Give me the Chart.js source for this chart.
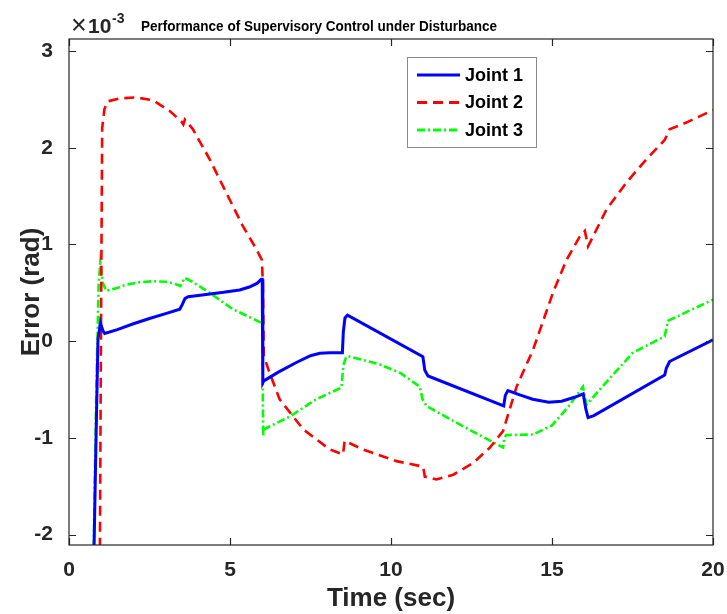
<!DOCTYPE html>
<html>
<head>
<meta charset="utf-8">
<script src="https://cdn.jsdelivr.net/npm/chart.js@4"></script>
<style>
  html, body { margin: 0; padding: 0; background: #fff; overflow: hidden; }
  #wrap { width: 727px; height: 614px; position: relative; }
  #errChart { display: block; }
</style>
</head>
<body>
<div id="wrap"><canvas id="errChart"></canvas></div>
<script>
// errors in units of 1e-3 rad
const t1 = [0.75, 0.78, 0.84, 0.9, 0.975, 1.05, 1.11, 1.5, 2.0, 2.5, 3.0, 3.44, 3.52, 3.6, 3.7, 4.2, 4.8, 5.3, 5.6, 5.85, 5.97, 6.0, 6.02, 6.05, 6.5, 7.06, 7.5, 7.79, 8.1, 8.49, 8.52, 8.57, 8.65, 10.99, 11.05, 11.15, 13.5, 13.55, 13.63, 14.0, 14.4, 14.9, 15.3, 15.7, 15.97, 16.05, 16.12, 16.3, 18.5, 18.55, 18.65, 20];
const e1 = [-2.3, -2.1, -1.0, 0.02, 0.19, 0.11, 0.08, 0.12, 0.18, 0.235, 0.285, 0.33, 0.38, 0.44, 0.46, 0.48, 0.505, 0.53, 0.56, 0.6, 0.64, 0.64, -0.43, -0.41, -0.32, -0.22, -0.15, -0.125, -0.12, -0.12, 0.1, 0.24, 0.27, -0.16, -0.3, -0.36, -0.67, -0.56, -0.51, -0.555, -0.6, -0.63, -0.62, -0.58, -0.545, -0.7, -0.79, -0.77, -0.35, -0.28, -0.21, 0.015];

const t2 = [0.93, 0.96, 1.0, 1.03, 1.1, 1.21, 1.57, 2.09, 2.61, 3.13, 3.49, 3.55, 3.6, 3.85, 4.37, 4.89, 5.4, 5.82, 5.99, 6.02, 6.05, 6.2, 6.54, 7.27, 8.1, 8.51, 8.56, 9.13, 10.17, 10.89, 11.0, 11.05, 11.41, 11.93, 12.55, 13.07, 13.48, 13.9, 14.41, 15.03, 15.45, 15.86, 16.02, 16.12, 16.69, 17.31, 17.93, 18.5, 18.65, 19.17, 20];
const e2 = [-2.3, -2.1, 0.5, 2.2, 2.4, 2.48, 2.51, 2.52, 2.49, 2.38, 2.27, 2.24, 2.29, 2.19, 1.88, 1.53, 1.19, 0.95, 0.84, 0.6, -0.15, -0.3, -0.6, -0.91, -1.12, -1.17, -1.03, -1.12, -1.24, -1.29, -1.3, -1.4, -1.43, -1.38, -1.26, -1.1, -0.93, -0.47, -0.09, 0.5, 0.84, 1.08, 1.14, 0.98, 1.36, 1.64, 1.88, 2.08, 2.19, 2.26, 2.39];

const t3 = [0.74, 0.77, 0.85, 0.92, 0.97, 1.05, 1.16, 1.5, 1.78, 2.2, 2.61, 3.0, 3.23, 3.46, 3.59, 3.8, 4.37, 5.09, 5.6, 5.97, 6.0, 6.03, 6.06, 6.85, 7.68, 8.46, 8.52, 8.61, 8.66, 9.65, 10.3, 10.89, 10.98, 11.1, 12.24, 13.48, 13.52, 13.58, 14.41, 15.0, 15.5, 15.96, 16.07, 16.48, 17.51, 18.5, 18.6, 20];
const e3 = [-2.3, -2.1, -0.5, 0.6, 0.81, 0.6, 0.52, 0.55, 0.585, 0.61, 0.62, 0.615, 0.6, 0.57, 0.655, 0.62, 0.5, 0.33, 0.25, 0.19, 0.19, -0.98, -0.91, -0.78, -0.6, -0.48, -0.25, -0.16, -0.155, -0.24, -0.33, -0.47, -0.6, -0.67, -0.88, -1.1, -1.0, -0.97, -0.965, -0.87, -0.68, -0.47, -0.66, -0.5, -0.12, 0.05, 0.21, 0.43];

const seriesNames = ["Joint 1", "Joint 2", "Joint 3"];
const xTicks = [0, 5, 10, 15, 20];
const yTicks = [-2, -1, 0, 1, 2, 3];
const expLabel = "-3";

const titleText = "Performance of Supervisory Control under Disturbance";
const ink = "#262626";

const pts = (xs, ys) => xs.map((x, i) => ({ x: x, y: ys[i] }));

const styles = [
  { color: "#0000ff", dash: [] },
  { color: "#ff0000", dash: [10, 6] },
  { color: "#00ff00", dash: [8, 3, 2, 3] }
];

// box, inward ticks, title, exponent and legend
const decor = {
  id: "decor",
  afterDraw(chart) {
    const ctx = chart.ctx;
    const a = chart.chartArea;
    const xs = chart.scales.x, ys = chart.scales.y;
    ctx.save();
    ctx.strokeStyle = ink;
    ctx.lineWidth = 1.2;
    ctx.strokeRect(a.left, a.top, a.right - a.left, a.bottom - a.top);
    ctx.beginPath();
    xTicks.forEach(v => {
      const px = Math.round(xs.getPixelForValue(v)) + 0.5;
      ctx.moveTo(px, a.bottom); ctx.lineTo(px, a.bottom - 7);
      ctx.moveTo(px, a.top); ctx.lineTo(px, a.top + 7);
    });
    yTicks.forEach(v => {
      const py = Math.round(ys.getPixelForValue(v)) + 0.5;
      ctx.moveTo(a.left, py); ctx.lineTo(a.left + 7, py);
      ctx.moveTo(a.right, py); ctx.lineTo(a.right - 7, py);
    });
    ctx.stroke();

    // title in a condensed bold face
    ctx.fillStyle = "#000";
    ctx.font = "bold 15px 'Liberation Sans Narrow', 'Liberation Sans', Arial, sans-serif";
    ctx.textBaseline = "alphabetic";
    ctx.textAlign = "left";
    const tw = ctx.measureText(titleText).width;
    ctx.save();
    ctx.translate(141, 31);
    ctx.scale(356 / tw, 1);
    ctx.fillText(titleText, 0, 0);
    ctx.restore();

    // axis multiplier
    ctx.fillStyle = ink;
    ctx.font = "27px 'Liberation Sans', Arial, sans-serif";
    ctx.fillText("\u00d7", 71, 34);
    ctx.font = "bold 21px 'Liberation Sans', Arial, sans-serif";
    ctx.fillText("10", 88, 33);
    ctx.font = "bold 14px 'Liberation Sans', Arial, sans-serif";
    ctx.fillText(expLabel, 112, 23);

    // legend
    const lx = 407.5, ly = 57.5, lw = 129, lh = 90;
    ctx.fillStyle = "#fff";
    ctx.fillRect(lx, ly, lw, lh);
    ctx.strokeStyle = "#8a8a8a";
    ctx.lineWidth = 1;
    ctx.strokeRect(lx, ly, lw, lh);
    ctx.font = "bold 18px 'Liberation Sans', Arial, sans-serif";
    ctx.textBaseline = "middle";
    const rows = [75, 102.5, 130];
    chart.data.datasets.forEach((ds, i) => {
      ctx.strokeStyle = ds.borderColor;
      ctx.lineWidth = 3;
      ctx.setLineDash(ds.borderDash);
      ctx.beginPath();
      ctx.moveTo(417, rows[i]); ctx.lineTo(460, rows[i]);
      ctx.stroke();
      ctx.setLineDash([]);
      ctx.fillStyle = "#000";
      ctx.fillText(ds.label, 465, rows[i] + 1);
    });
    ctx.restore();
  }
};

new Chart(document.getElementById("errChart"), {
  type: "line",
  data: {
    datasets: [pts(t1, e1), pts(t2, e2), pts(t3, e3)].map((d, i) => ({
      label: seriesNames[i],
      data: d,
      borderColor: styles[i].color,
      backgroundColor: styles[i].color,
      borderDash: styles[i].dash,
      borderWidth: i === 0 ? 3 : 2.6,
      pointRadius: 0,
      tension: 0,
      clip: 0
    }))
  },
  options: {
    responsive: true,
    maintainAspectRatio: false,
    animation: false,
    layout: { padding: { top: 39, right: 14, left: 0, bottom: 0 } },
    plugins: {
      legend: { display: false },
      tooltip: { enabled: false }
    },
    scales: {
      x: {
        type: "linear",
        min: 0,
        max: 20,
        grid: { display: false },
        border: { display: false },
        afterBuildTicks: s => { s.ticks = xTicks.map(v => ({ value: v })); },
        afterFit: s => { s.height = 69; s.paddingLeft = 0; s.paddingRight = 0; },
        ticks: {
          color: ink,
          padding: 5,
          maxRotation: 0,
          font: { family: "'Liberation Sans', Arial, sans-serif", size: 21, weight: "bold" }
        },
        title: {
          display: true,
          text: "Time (sec)",
          color: ink,
          padding: { top: 0, bottom: 0 },
          font: { family: "'Liberation Sans', Arial, sans-serif", size: 26, weight: "bold" }
        }
      },
      y: {
        type: "linear",
        min: -2.107,
        max: 3.124,
        grid: { display: false },
        border: { display: false },
        afterBuildTicks: s => { s.ticks = yTicks.map(v => ({ value: v })); },
        afterFit: s => { s.width = 69; s.paddingTop = 0; s.paddingBottom = 0; },
        ticks: {
          color: ink,
          padding: 8,
          font: { family: "'Liberation Sans', Arial, sans-serif", size: 21, weight: "bold" }
        },
        title: {
          display: true,
          text: "Error (rad)",
          color: ink,
          padding: { top: 16, bottom: 0 },
          font: { family: "'Liberation Sans', Arial, sans-serif", size: 26, weight: "bold" }
        }
      }
    }
  },
  plugins: [decor]
});
</script>
</body>
</html>
